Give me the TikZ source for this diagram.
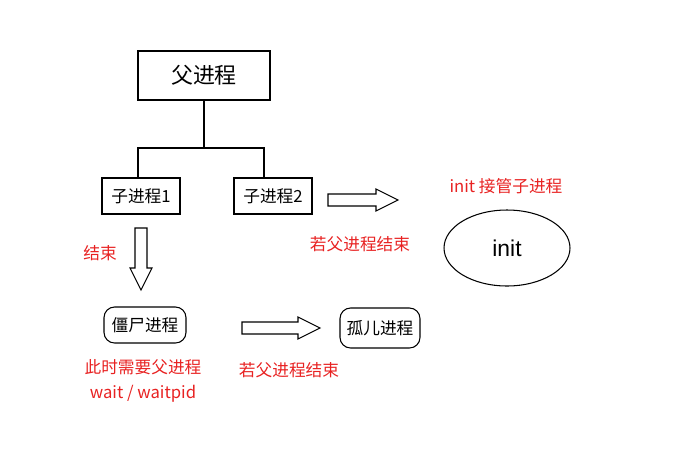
\documentclass[tikz,border=0pt]{standalone}
\usepackage{fontspec}
\setmainfont{Liberation Sans}
\newfontfamily\cjk{Noto Sans CJK SC}
\usetikzlibrary{positioning,shapes.geometric}
\definecolor{redtxt}{RGB}{232,34,34}
\tikzset{
	procbox/.style={draw,semithick,minimum width=#1,minimum height=0.72cm,inner sep=0pt,font=\cjk\fontsize{9.5}{11}\selectfont},
	roundbox/.style={procbox=#1,rounded corners=6pt},
	note/.style={text=redtxt,font=\cjk\fontsize{9.5}{11}\selectfont,inner sep=0pt},
}
% hollow arrow: start point, length, direction angle
\newcommand{\hollowarrow}[3]{%
	\draw[semithick,shift={#1},rotate=#3] (0,-6)--(#2-22,-6)--(#2-22,-11)--(#2,0)--(#2-22,11)--(#2-22,6)--(0,6)--cycle;}
\begin{document}
\begin{tikzpicture}[x=0.02cm,y=-0.02cm]
	\useasboundingbox (0,0) rectangle (675,460);
	
	\node[procbox=2.64cm,minimum height=0.98cm,font=\cjk\fontsize{12.5}{14}\selectfont] (parent) at (204,75.5) {父进程};
	\node[procbox=1.56cm] (child1) at (141,196) {子进程1};
	\node[procbox=1.56cm] (child2) at (273,196) {子进程2};
	\node[roundbox=1.64cm] (zombie) at (145,325) {僵尸进程};
	\node[roundbox=1.60cm,minimum height=0.8cm] (orphan) at (380,328) {孤儿进程};
	\node[draw,semithick,ellipse,minimum width=2.52cm,minimum height=1.52cm,font=\fontsize{13}{15}\selectfont] (init) at (507,248) {init};
	
	\coordinate (fork) at (204,148);
	\coordinate (left) at (138,148);
	\coordinate (right) at (264,148);
	\draw[semithick] (parent.south)--(fork);
	\draw[semithick] (child1.north-|left)--(left)--(right)--(child2.north-|right);
	
	\hollowarrow{(328,200)}{70}{0}
	\hollowarrow{(141,228)}{62}{-90}
	\hollowarrow{(242,328)}{78}{0}
	
	\node[note] (takeover) at (506,186) {init 接管子进程};
	\node[note] (ifend1) at (360,244) {若父进程结束};
	\node[note] (ended) at (100,253) {结束};
	\node[note] (ifend2) at (289,370) {若父进程结束};
	\node[note] (needwait) at (143,367) {此时需要父进程};
	\node[note] (waitpid) at (143,394) {wait / waitpid};
\end{tikzpicture}
\end{document}
